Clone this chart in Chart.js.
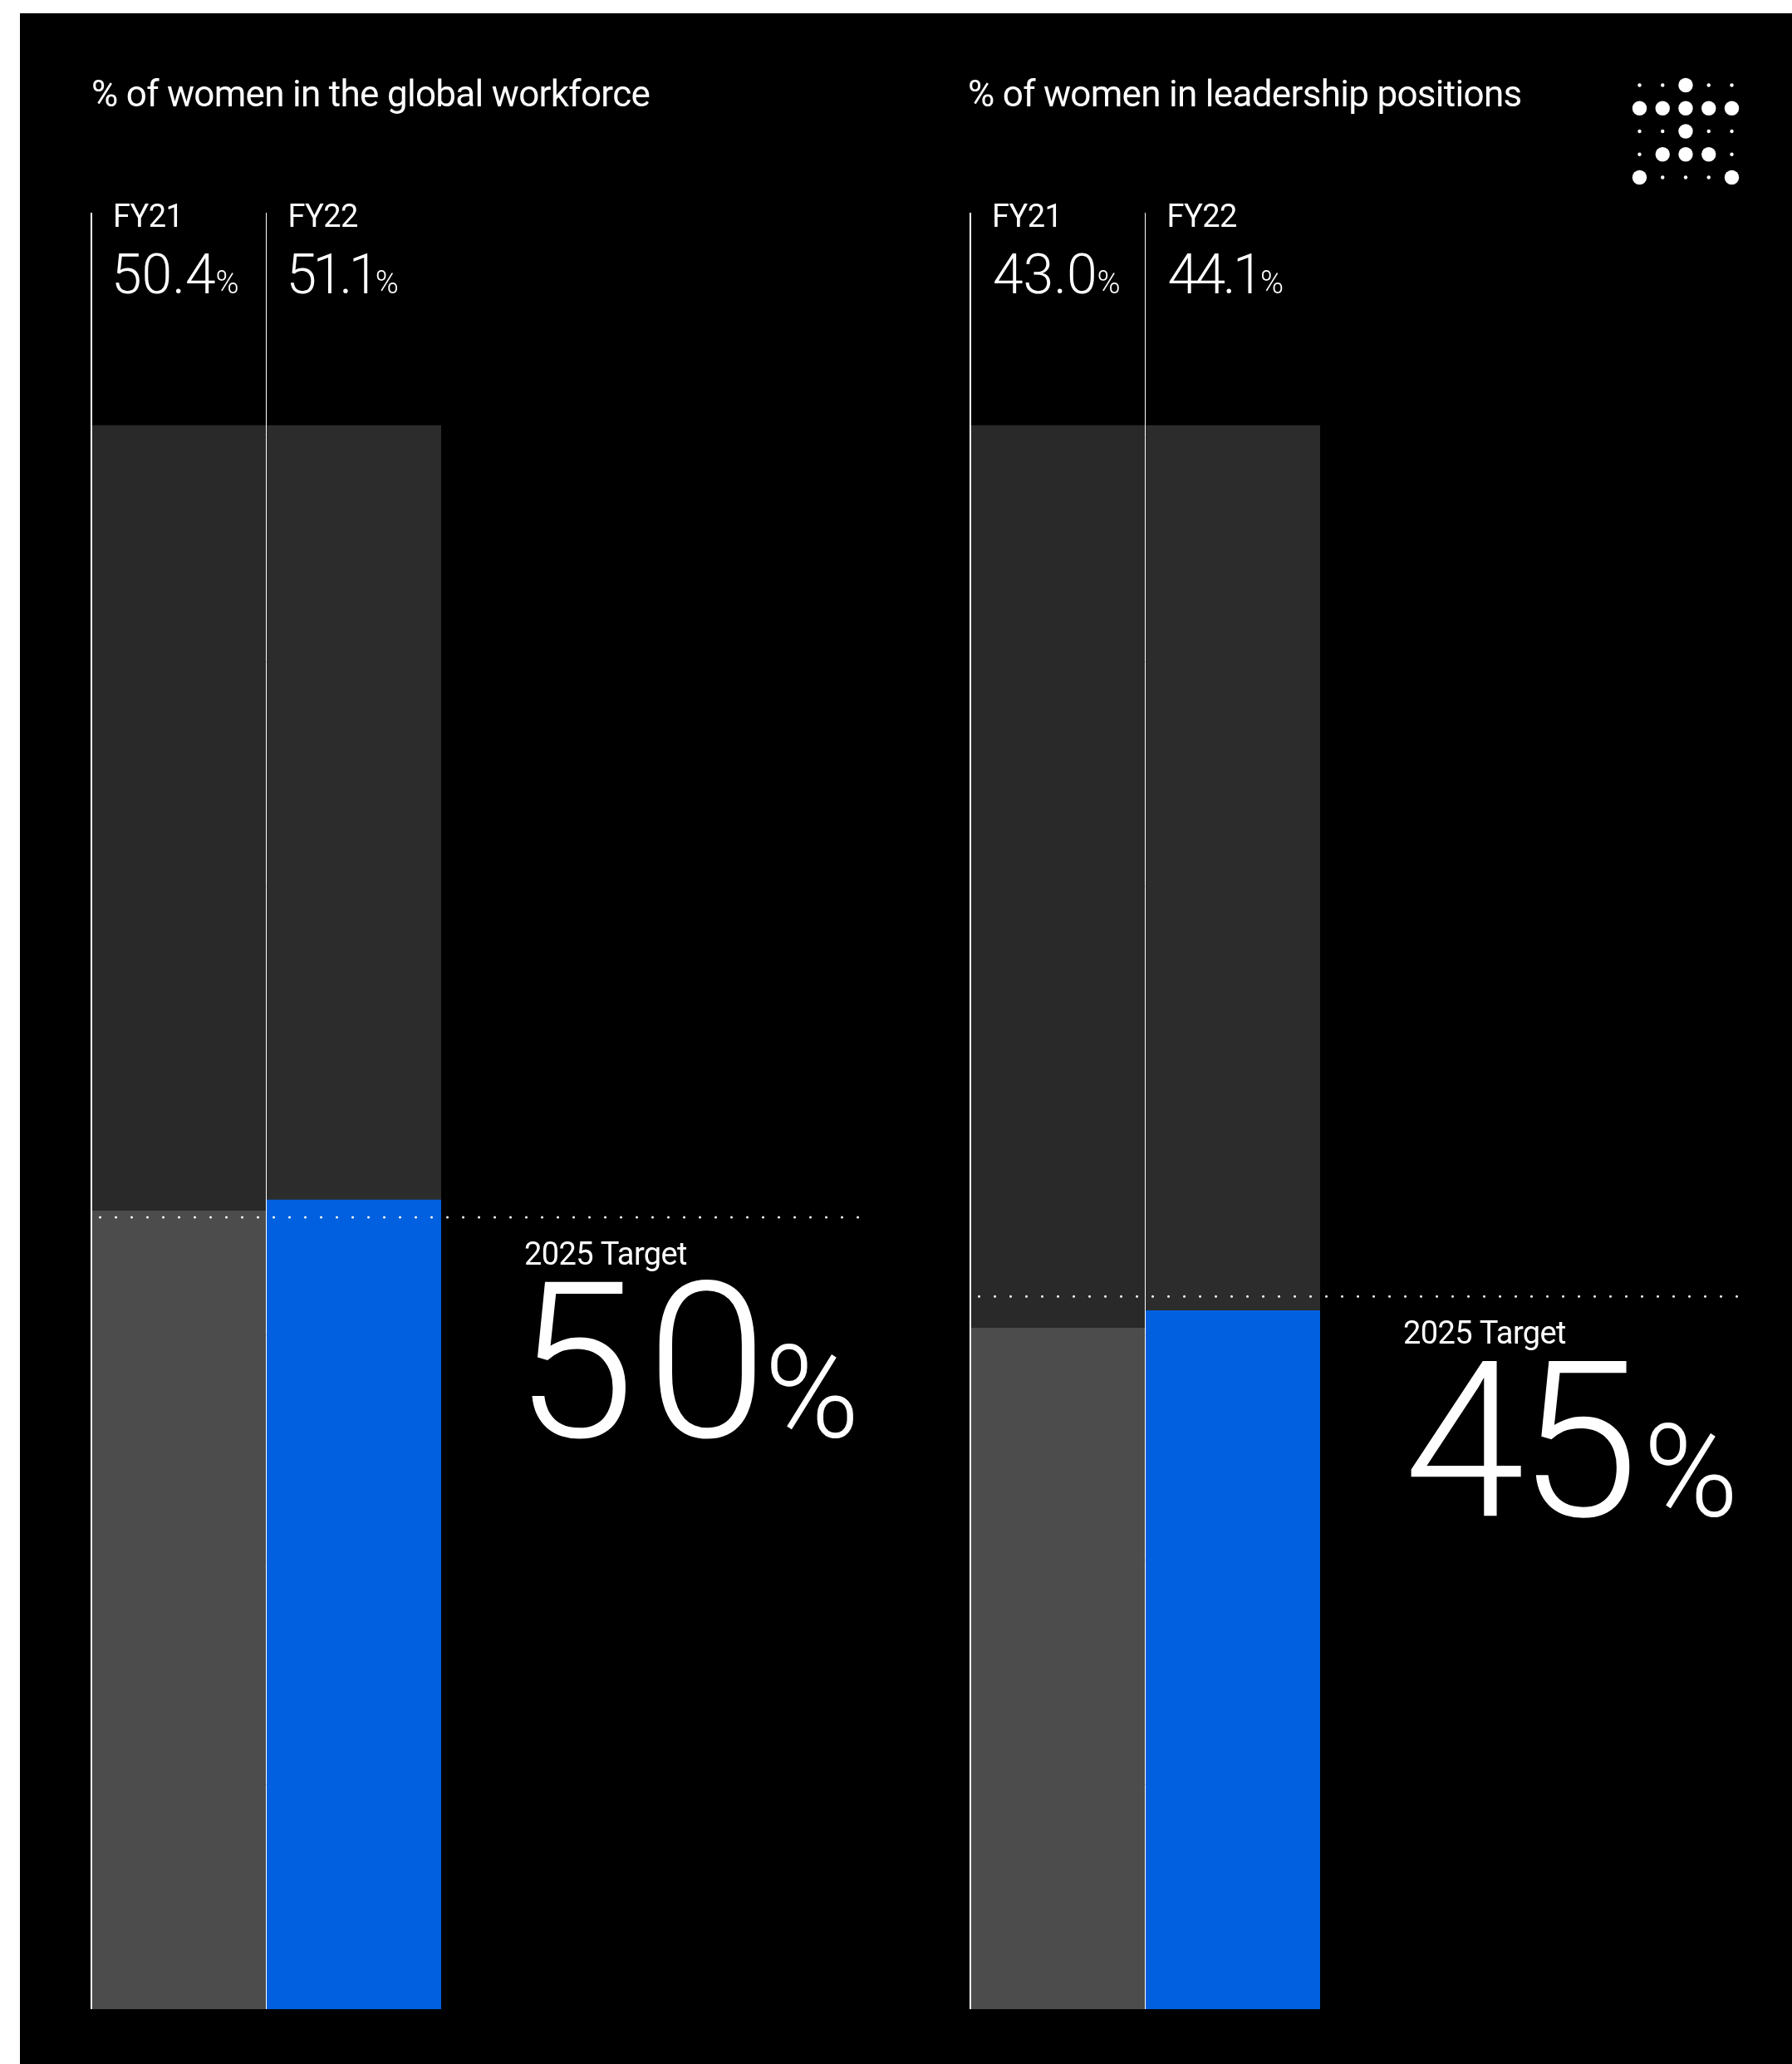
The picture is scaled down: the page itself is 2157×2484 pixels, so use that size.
<!DOCTYPE html>
<html>
<head>
<meta charset="utf-8">
<style>
  html, body { margin: 0; padding: 0; background: #fff; }
  #page { position: relative; width: 2157px; height: 2484px; overflow: hidden; }
  #panel { position: absolute; left: 24px; top: 16px; right: 0; bottom: 0; background: #000; }
  canvas { position: absolute; }
</style>
<script src="https://cdn.jsdelivr.net/npm/chart.js@4"></script>
</head>
<body>
<div id="page">
  <div id="panel"></div>
  <canvas id="workforceChart" width="1100" height="2484" style="left:0;top:0"></canvas>
  <canvas id="leadershipChart" width="1099" height="2484" style="left:1058px;top:0"></canvas>
  <canvas id="logoChart" width="138" height="138" style="left:1960px;top:89px"></canvas>
</div>
<script>
const categories = ["FY21", "FY22"];
const workforceValues = [50.4, 51.1];
const leadershipValues = [43.0, 44.1];
const trackValues = [100, 100];
const workforceTarget = 50;
const leadershipTarget = 45;
const workforceTitle = "% of women in the global workforce";
const leadershipTitle = "% of women in leadership positions";
const targetLabel = "2025 Target";
// target line runs past the bars, in bar-slot units
const targetSpan = [0.05, 4.39];
// logo dots: 1 = big, 0 = small
const logoRows = ["00100", "11111", "00100", "01110", "10001"];

const textFont = "Roboto";
const white = "#fff";

function drawText(ctx, text, x, y, size, weight, spacing) {
  ctx.font = `${weight} ${size}px ${textFont}`;
  ctx.letterSpacing = `${spacing}px`;
  ctx.fillText(text, x, y);
  return ctx.measureText(text).width;
}

const panelText = {
  id: "panelText",
  afterDraw(chart, args, opts) {
    const ctx = chart.ctx;
    const xs = chart.scales.x;
    const ys = chart.scales.y;
    const left = chart.chartArea.left;
    const slot = xs.getPixelForValue(1) - xs.getPixelForValue(0);
    ctx.save();
    ctx.fillStyle = white;
    ctx.textBaseline = "alphabetic";
    ctx.textAlign = "left";
    drawText(ctx, opts.title, left + opts.titleDx, 128, 44, 400, -0.7);

    categories.forEach((cat, i) => {
      const x = xs.getPixelForValue(i) - slot / 2;
      drawText(ctx, cat, x + 26, 273, 38, 400, -0.6);
      const w = drawText(ctx, opts.values[i].toFixed(1), x + opts.valueDx, 353, 66, 300, opts.valueSpacing[i]);
      drawText(ctx, "%", x + opts.valueDx + w, 353, 38, 300, 0);
    });

    const yTarget = ys.getPixelForValue(opts.target);
    drawText(ctx, targetLabel, left + 521, yTarget + 57, 38, 400, -0.6);
    drawText(ctx, String(opts.target), left + opts.bigDx, yTarget + 264, 262, 300, opts.bigSpacing);
    drawText(ctx, "%", left + 810, yTarget + 264, 155, 300, 0);
    ctx.restore();
  },
};

function makeChart(id, values, target, title, text) {
  return new Chart(document.getElementById(id), {
    type: "bar",
    data: {
      labels: categories,
      datasets: [
        {
          type: "line",
          label: "2025 Target",
          xAxisID: "xTarget",
          data: targetSpan.map((x) => ({ x: x, y: target })),
          borderColor: white,
          borderWidth: 3,
          borderCapStyle: "round",
          borderDash: [0, 19],
          pointRadius: 0,
          clip: false,
          order: 0,
        },
        {
          label: "% of women",
          data: values,
          backgroundColor: ["#4c4c4c", "#0060df"],
          barPercentage: 1,
          categoryPercentage: 1,
          grouped: false,
          order: 1,
        },
        {
          label: "track",
          data: trackValues,
          backgroundColor: ["#292929", "#2c2c2c"],
          barPercentage: 1,
          categoryPercentage: 1,
          grouped: false,
          order: 2,
        },
      ],
    },
    options: {
      responsive: false,
      animation: false,
      layout: { padding: { left: 110, right: 569 - (id == "leadershipChart" ? 1 : 0), top: 256, bottom: 66 } },
      plugins: {
        legend: { display: false },
        tooltip: { enabled: false },
        panelText: { title: title, values: values, target: target, ...text },
      },
      scales: {
        x: {
          border: { display: false },
          ticks: { display: false },
          grid: {
            z: 1,
            drawTicks: false,
            color: (ctx) => (ctx.index < 2 ? white : "transparent"),
            lineWidth: (ctx) => (ctx.index == 0 ? 2 : 1),
          },
        },
        xTarget: { type: "linear", display: false, offset: false, min: 0, max: 2 },
        y: { display: false, min: 0, max: 113.43 },
      },
    },
    plugins: [panelText],
  });
}

makeChart("workforceChart", workforceValues, workforceTarget, workforceTitle,
  { titleDx: 0, valueDx: 24, valueSpacing: [0, -4.6], bigDx: 509, bigSpacing: 14 });
makeChart("leadershipChart", leadershipValues, leadershipTarget, leadershipTitle,
  { titleDx: -3, valueDx: 27, valueSpacing: [0, -3.5], bigDx: 522, bigSpacing: -8 });

const logoPoints = [];
const logoSizes = [];
logoRows.forEach((row, r) => {
  row.split("").forEach((c, col) => {
    logoPoints.push({ x: col, y: r });
    logoSizes.push(c == "1" ? 8.7 : 2.2);
  });
});

new Chart(document.getElementById("logoChart"), {
  type: "scatter",
  data: {
    datasets: [{
      data: logoPoints,
      backgroundColor: white,
      borderWidth: 0,
      pointRadius: logoSizes,
      clip: false,
    }],
  },
  options: {
    responsive: false,
    animation: false,
    layout: { padding: 13.5 },
    plugins: { legend: { display: false }, tooltip: { enabled: false } },
    scales: {
      x: { display: false, min: 0, max: 4 },
      y: { display: false, min: 0, max: 4, reverse: true },
    },
  },
});
</script>
</body>
</html>
